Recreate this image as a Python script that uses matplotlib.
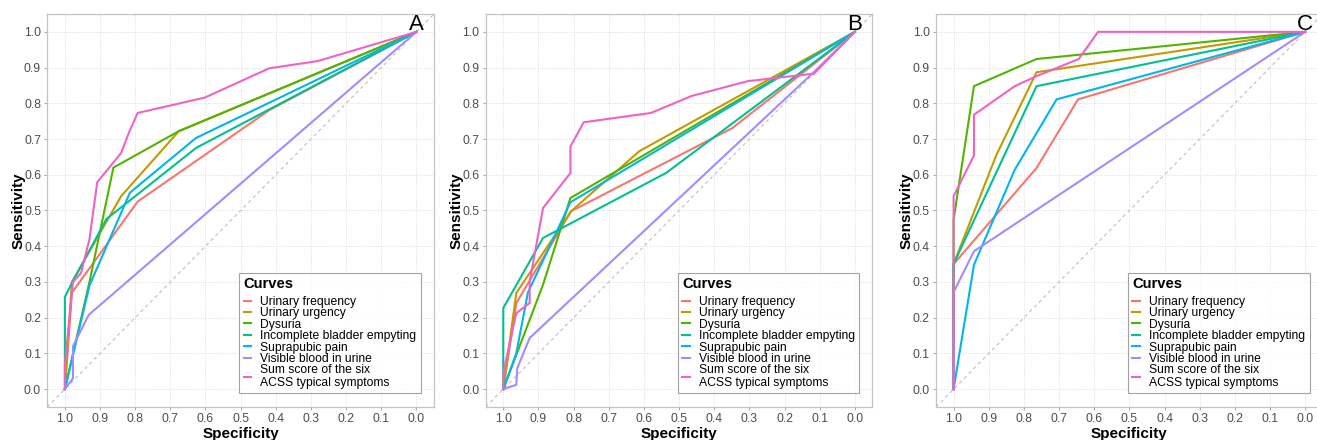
import matplotlib
matplotlib.use("Agg")
import matplotlib.pyplot as plt

plt.rcParams["font.family"] = ["Liberation Sans", "DejaVu Sans"]

# Curve names and ggplot-style hue palette
CURVES = [
    "Urinary frequency",
    "Urinary urgency",
    "Dysuria",
    "Incomplete bladder empyting",
    "Suprapubic pain",
    "Visible blood in urine",
    "Sum score of the six\nACSS typical symptoms",
]
COLORS = ["#F8766D", "#C49A00", "#53B400", "#00C094", "#00B6EB", "#A58AFF", "#F062C8"]

PANEL_LABELS = ["A", "B", "C"]
TICKS = [1.0, 0.9, 0.8, 0.7, 0.6, 0.5, 0.4, 0.3, 0.2, 0.1, 0.0]

# ---- Panel A: (specificity, sensitivity) ----
A_FREQ = ([1.0, 0.98, 0.793, 0.42, 0.0], [0.0, 0.27, 0.525, 0.78, 1.0])
A_URG = ([1.0, 0.98, 0.84, 0.676, 0.0], [0.0, 0.30, 0.54, 0.722, 1.0])
A_DYS = ([1.0, 0.93, 0.862, 0.676, 0.0], [0.0, 0.30, 0.62, 0.722, 1.0])
A_INC = ([1.0, 1.0, 0.98, 0.882, 0.627, 0.0], [0.0, 0.258, 0.297, 0.476, 0.675, 1.0])
A_SUP = ([1.0, 0.93, 0.815, 0.627, 0.0], [0.0, 0.29, 0.55, 0.703, 1.0])
A_BLD = ([1.0, 0.977, 0.977, 0.932, 0.0], [0.0, 0.03, 0.12, 0.208, 1.0])
A_SUM = ([1.0, 1.0, 0.977, 0.954, 0.93, 0.908, 0.84, 0.817, 0.793, 0.602, 0.419, 0.282, 0.0],
         [0.0, 0.07, 0.30, 0.325, 0.42, 0.579, 0.661, 0.72, 0.773, 0.816, 0.898, 0.918, 1.0])

# ---- Panel B ----
B_FREQ = ([1.0, 0.963, 0.807, 0.348, 0.0], [0.0, 0.241, 0.498, 0.731, 1.0])
B_URG = ([1.0, 0.963, 0.807, 0.613, 0.0], [0.0, 0.269, 0.498, 0.666, 1.0])
B_DYS = ([1.0, 0.887, 0.809, 0.0], [0.0, 0.292, 0.535, 1.0])
B_INC = ([1.0, 1.0, 0.887, 0.537, 0.0], [0.0, 0.227, 0.423, 0.605, 1.0])
B_SUP = ([1.0, 0.963, 0.93, 0.809, 0.0], [0.0, 0.10, 0.27, 0.523, 1.0])
B_BLD = ([1.0, 0.963, 0.96, 0.925, 0.116, 0.0], [0.0, 0.012, 0.059, 0.143, 0.888, 1.0])
B_SUM = ([1.0, 1.0, 0.963, 0.925, 0.925, 0.887, 0.809, 0.809, 0.771, 0.580, 0.466, 0.305, 0.116, 0.0],
         [0.0, 0.045, 0.213, 0.241, 0.30, 0.507, 0.605, 0.679, 0.747, 0.773, 0.820, 0.862, 0.883, 1.0])

# ---- Panel C ----
C_FREQ = ([1.0, 1.0, 0.764, 0.646, 0.0], [0.0, 0.35, 0.619, 0.811, 1.0])
C_URG = ([1.0, 1.0, 0.878, 0.764, 0.0], [0.0, 0.35, 0.656, 0.887, 1.0])
C_DYS = ([1.0, 1.0, 0.942, 0.764, 0.0], [0.0, 0.474, 0.848, 0.924, 1.0])
C_INC = ([1.0, 1.0, 0.764, 0.0], [0.0, 0.35, 0.848, 1.0])
C_SUP = ([1.0, 0.942, 0.826, 0.707, 0.0], [0.0, 0.348, 0.614, 0.811, 1.0])
C_BLD = ([1.0, 1.0, 0.942, 0.0], [0.0, 0.271, 0.386, 1.0])
C_SUM = ([1.0, 1.0, 0.942, 0.942, 0.826, 0.764, 0.644, 0.589, 0.0],
         [0.0, 0.54, 0.654, 0.768, 0.848, 0.876, 0.924, 1.0, 1.0])

PANELS = [
    [A_FREQ, A_URG, A_DYS, A_INC, A_SUP, A_BLD, A_SUM],
    [B_FREQ, B_URG, B_DYS, B_INC, B_SUP, B_BLD, B_SUM],
    [C_FREQ, C_URG, C_DYS, C_INC, C_SUP, C_BLD, C_SUM],
]

W, H = 1317, 440
fig = plt.figure(figsize=(W / 100, H / 100), dpi=100)
fig.patch.set_facecolor("white")

ax_w, ax_h = 386.7, 393.0
lefts = [47.3, 485.7, 936.0]
top = 14.0

for left, curves, tag in zip(lefts, PANELS, PANEL_LABELS):
    ax = fig.add_axes([left / W, 1 - (top + ax_h) / H, ax_w / W, ax_h / H])
    ax.set_xlim(1.05, -0.05)
    ax.set_ylim(-0.05, 1.05)

    ax.grid(True, which="major", color="#DCDCDC", linestyle=(0, (1, 1.5)), linewidth=0.7)
    ax.set_axisbelow(True)

    # chance diagonal across the whole panel
    ax.plot([1.05, -0.05], [-0.05, 1.05], color="#BDBDBD", linestyle=(0, (3, 3)),
            linewidth=0.8, zorder=1)

    for (spec, sens), name, col in zip(curves, CURVES, COLORS):
        ax.plot(spec, sens, color=col, linewidth=1.5, label=name, zorder=2,
                solid_joinstyle="miter")

    ax.set_xticks(TICKS)
    ax.set_xticklabels([f"{t:.1f}" for t in TICKS])
    ax.set_yticks(TICKS)
    ax.set_yticklabels([f"{t:.1f}" for t in TICKS])
    ax.tick_params(axis="both", labelsize=8.7, labelcolor="#4D4D4D", color="#9A9A9A",
                   length=2.5, width=0.6, pad=2)
    for sp in ax.spines.values():
        sp.set_color("#C4C4C4")
        sp.set_linewidth(0.9)

    ax.set_xlabel("Specificity", fontsize=11, fontweight="bold", labelpad=1)
    ax.set_ylabel("Sensitivity", fontsize=11, fontweight="bold", labelpad=-1)

    ax.text(0.0, 1.004, tag, fontsize=16, ha="center", va="baseline", color="black")

    leg = ax.legend(loc="lower right", bbox_to_anchor=(0.966, 0.035), borderaxespad=0,
                    title="Curves", alignment="left", fontsize=8.7,
                    title_fontproperties={"weight": "bold", "size": 10.6},
                    frameon=True, fancybox=False, edgecolor="#8C8C8C",
                    handlelength=0.65, handletextpad=0.75, labelspacing=-0.05,
                    borderpad=0.35)
    leg._legend_box.sep = 3.6
    leg.get_frame().set_linewidth(0.8)
    for t in leg.get_texts():
        t.set_linespacing(1.08)
        t.set_color("black")
    for ln in leg.get_lines():
        ln.set_linewidth(1.5)

fig.savefig("out.png", dpi=100, facecolor="white")
